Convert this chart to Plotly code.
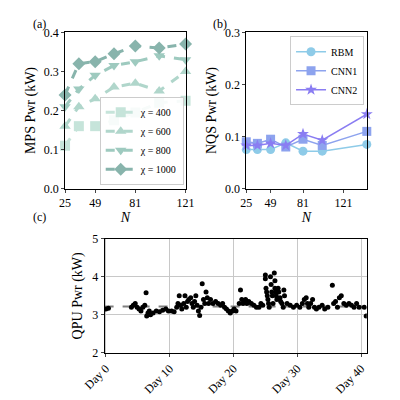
import plotly.graph_objects as go

N_mps = [25, 36, 49, 64, 81, 100, 121]
chi_labels = ["χ = 400", "χ = 600", "χ = 800", "χ = 1000"]
mps_vals = [
    [0.11, 0.16, 0.16, 0.175, 0.195, 0.22, 0.225],
    [0.16, 0.21, 0.23, 0.26, 0.27, 0.25, 0.30],
    [0.21, 0.255, 0.29, 0.315, 0.325, 0.34, 0.33],
    [0.24, 0.32, 0.325, 0.345, 0.365, 0.36, 0.37],
]
N_nqs = [25, 36, 49, 64, 81, 100, 144]
nqs_labels = ["RBM", "CNN1", "CNN2"]
nqs_vals = [
    [0.075, 0.075, 0.075, 0.088, 0.072, 0.072, 0.085],
    [0.090, 0.087, 0.095, 0.080, 0.095, 0.083, 0.110],
    [0.083, 0.083, 0.087, 0.083, 0.105, 0.093, 0.143],
]
qpu_days = [0.0, 0.4,
    4.0, 4.3, 4.6, 4.9, 5.2, 5.5, 5.8, 6.1, 6.3, 6.4, 6.6, 6.8, 7.0,
    7.4, 7.9, 8.4, 8.9, 9.4, 9.8, 10.3, 10.7,
    11.1, 11.3, 11.5, 11.7, 11.9, 12.2, 12.4, 12.6, 12.8, 13.0,
    13.3, 13.5, 13.7, 13.9, 14.1, 14.3, 14.5, 14.7, 14.9,
    15.1, 15.3, 15.5, 15.7, 15.9, 16.1, 16.4, 16.8, 17.2, 17.6, 18.0, 18.3,
    18.6, 18.9, 19.2, 19.5, 19.8, 20.1, 20.4,
    20.9, 21.1, 21.3, 21.5, 21.7, 21.9, 22.1,
    22.4, 22.8, 23.2, 23.6, 24.0, 24.3, 24.6,
    25.0, 25.0, 25.1, 25.2, 25.3, 25.4, 25.5, 25.6, 25.8, 25.9, 26.0, 26.1, 26.2,
    26.4, 26.5, 26.5, 26.6, 26.7, 26.8,
    27.0, 27.1, 27.3, 27.4, 27.6, 27.8, 27.9, 28.0,
    28.4, 28.9, 29.4, 29.9, 30.4, 30.8,
    31.1, 31.4, 31.6, 31.8, 32.1, 32.4, 32.7, 33.0,
    33.4, 33.9, 34.3, 34.8, 35.5,
    35.7, 36.0, 36.3, 36.6, 36.9, 37.3, 37.7,
    38.1, 38.5, 38.9, 39.3, 39.7, 40.5, 40.8]
qpu_kw = [3.15, 3.17,
    3.20, 3.25, 3.30, 3.20, 3.15, 3.10, 3.20, 3.25, 3.58, 2.97, 3.05, 3.10, 3.00,
    3.05, 3.10, 3.08, 3.12, 3.15, 3.10, 3.10, 3.08,
    3.20, 3.30, 3.50, 3.25, 3.15, 3.30, 3.50, 3.20, 3.35, 3.40,
    3.45, 3.30, 3.20, 3.35, 3.50, 3.25, 3.10, 2.98, 3.20,
    3.82, 3.40, 3.30, 3.60, 3.45, 3.30, 3.40, 3.30, 3.35, 3.30, 3.25, 3.30,
    3.20, 3.15, 3.10, 3.05, 3.10, 3.15, 3.10,
    3.30, 3.65, 3.40, 3.30, 3.35, 3.40, 3.30,
    3.35, 3.30, 3.25, 3.20, 3.20, 3.30, 3.25,
    4.05, 3.95, 3.70, 3.60, 3.50, 3.40, 3.30, 3.20, 4.00, 3.80, 3.60, 3.50, 3.30,
    4.10, 3.90, 3.70, 3.60, 3.50, 3.40,
    3.70, 3.60, 3.45, 3.35, 3.30, 3.20, 3.65, 3.50,
    3.30, 3.25, 3.20, 3.25, 3.20, 3.30,
    3.40, 3.45, 3.30, 3.20, 3.30, 3.40, 3.20, 3.15,
    3.20, 3.25, 3.15, 3.20, 3.78,
    3.30, 3.35, 3.20, 3.45, 3.50, 3.30, 3.25,
    3.30, 3.25, 3.20, 3.30, 3.20, 3.20, 2.97]
qpu_mean = 3.22
day_ticks = [0, 10, 20, 30, 40]

font = "Liberation Serif, DejaVu Serif, serif"
mps_colors = ["#c6e4da", "#b0d6cb", "#9ecabf", "#88b4ac"]
mps_symbols = ["square", "triangle-up", "triangle-down", "diamond"]
nqs_colors = ["#8ecbe8", "#8da3ee", "#8a7df2"]
nqs_symbols = ["circle", "square", "star"]

fig = go.Figure()
for lab, vals, c, s in zip(chi_labels, mps_vals, mps_colors, mps_symbols):
    fig.add_trace(go.Scatter(x=N_mps, y=vals, name=lab, mode="lines+markers",
        line=dict(color=c, width=3, dash="dash"), marker=dict(symbol=s, size=10, color=c),
        xaxis="x", yaxis="y", legend="legend", cliponaxis=False))
for lab, vals, c, s in zip(nqs_labels, nqs_vals, nqs_colors, nqs_symbols):
    fig.add_trace(go.Scatter(x=N_nqs, y=vals, name=lab, mode="lines+markers",
        line=dict(color=c, width=1.5), marker=dict(symbol=s, size=9, color=c),
        xaxis="x2", yaxis="y2", legend="legend2", cliponaxis=False))
fig.add_trace(go.Scatter(x=[-0.2, 40.9], y=[qpu_mean, qpu_mean], mode="lines",
    line=dict(color="gray", width=2, dash="dash"), showlegend=False, xaxis="x3", yaxis="y3"))
fig.add_trace(go.Scatter(x=qpu_days, y=qpu_kw, mode="markers",
    marker=dict(color="black", size=5), showlegend=False, xaxis="x3", yaxis="y3"))

ax = dict(showline=True, linecolor="black", mirror=True, ticks="outside", ticklen=3,
          showgrid=False, zeroline=False, tickfont=dict(size=12))
fig.update_layout(
    width=400, height=400, margin=dict(l=0, r=0, t=0, b=0),
    plot_bgcolor="white", paper_bgcolor="white", font=dict(family=font, color="black", size=12),
    xaxis=dict(ax, domain=[0.0925, 0.42], range=[25, 121], tickvals=[25, 49, 81, 121],
               title=dict(text="<i>N</i>", standoff=2), anchor="y"),
    yaxis=dict(ax, domain=[0.55, 0.955], range=[0, 0.4], tickvals=[0, 0.1, 0.2, 0.3, 0.4],
               tickformat=".1f", title=dict(text="MPS Pwr (kW)", standoff=4), anchor="x"),
    xaxis2=dict(ax, domain=[0.585, 0.9125], range=[25, 144], tickvals=[25, 49, 81, 121],
                title=dict(text="<i>N</i>", standoff=2), anchor="y2"),
    yaxis2=dict(ax, domain=[0.55, 0.955], range=[0, 0.3], tickvals=[0, 0.1, 0.2, 0.3],
                tickformat=".1f", title=dict(text="NQS Pwr (kW)", standoff=4), anchor="x2"),
    xaxis3=dict(ax, domain=[0.2, 0.9125], range=[-0.2, 40.9], tickvals=day_ticks,
                ticktext=["Day %d" % d for d in day_ticks], tickangle=-45,
                showgrid=True, gridcolor="#c8c8c8", anchor="y3"),
    yaxis3=dict(ax, domain=[0.125, 0.42], range=[2, 5], tickvals=[2, 3, 4, 5],
                showgrid=True, gridcolor="#c8c8c8", title=dict(text="QPU Pwr (kW)", standoff=6), anchor="x3"),
    legend=dict(x=0.415, y=0.56, xanchor="right", yanchor="bottom", bordercolor="#cccccc",
                borderwidth=1, font=dict(size=10), tracegroupgap=0, itemwidth=30,
                bgcolor="rgba(255,255,255,0.85)"),
    legend2=dict(x=0.905, y=0.945, xanchor="right", yanchor="top", bordercolor="#cccccc",
                 borderwidth=1, font=dict(size=10), itemwidth=30, bgcolor="rgba(255,255,255,0.85)"),
    annotations=[
        dict(text="(a)", x=0.0, y=1.0, xref="paper", yref="paper", xanchor="left", yanchor="top", showarrow=False),
        dict(text="(b)", x=0.49, y=1.0, xref="paper", yref="paper", xanchor="left", yanchor="top", showarrow=False),
        dict(text="(c)", x=0.0, y=0.5, xref="paper", yref="paper", xanchor="left", yanchor="top", showarrow=False),
    ],
)
fig.write_html("out.html")
